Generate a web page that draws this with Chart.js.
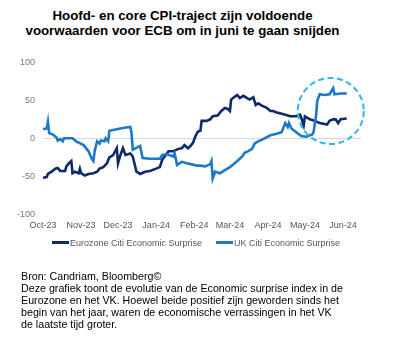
<!DOCTYPE html>
<html>
<head>
<meta charset="utf-8">
<script src="https://cdn.jsdelivr.net/npm/chart.js@4.4.1/dist/chart.umd.min.js"></script>
<style>
  body { margin: 0; background: #fff; width: 393px; height: 363px; position: relative; overflow: hidden;
         font-family: "Liberation Sans", Arial, sans-serif; }
  #title { position: absolute; left: 0; top: 8px; width: 365px; text-align: center; font-weight: bold;
           font-size: 13.3px; line-height: 15px; color: #000; }
  #wrap { position: absolute; left: 0; top: 49px; width: 393px; height: 189px; }
  #legend { position: absolute; left: 52px; top: 237px; height: 12px; font-size: 9px; line-height: 12px; color: #555; white-space: nowrap; }
  #legend .item { position: absolute; top: 0; }
  #legend .swatch { display: inline-block; width: 17px; height: 3px; vertical-align: middle; margin-right: 1px; position: relative; top: -1px; }
  #note { position: absolute; left: 21px; top: 269.5px; width: 372px; font-size: 10.7px; line-height: 12px; color: #000; }
</style>
</head>
<body>
<div id="title">Hoofd- en core CPI-traject zijn voldoende<br>voorwaarden voor ECB om in juni te gaan snijden</div>
<div id="wrap"><canvas id="surprise-chart"></canvas></div>
<div id="legend"></div>
<div id="note">Bron: Candriam, Bloomberg©<br>Deze grafiek toont de evolutie van de Economic surprise index in de<br>Eurozone en het VK. Hoewel beide positief zijn geworden sinds het<br>begin van het jaar, waren de economische verrassingen in het VK<br>de laatste tijd groter.</div>
<script>
// days counted from 1 Oct 2023
const monthDays = [0, 31, 61, 92, 123, 152, 183, 213, 244];
const monthLabels = ['Oct-23', 'Nov-23', 'Dec-23', 'Jan-24', 'Feb-24', 'Mar-24', 'Apr-24', 'May-24', 'Jun-24'];

const ezDays = [0, 3, 4, 7, 10, 12, 14, 18, 19, 21, 23, 24, 26, 29, 30, 31, 34, 37, 41, 44, 46, 49, 52, 54, 57, 60, 61, 63, 65, 67, 71, 73, 76, 79, 83, 87, 92, 95, 97, 99, 102, 106, 110, 113, 115, 118, 120, 122, 124, 125, 126, 128, 129, 133, 136, 138, 142, 145, 148, 150, 152, 153, 156, 158, 160, 163, 166, 168, 171, 173, 175, 178, 182, 185, 187, 190, 195, 201, 206, 209, 210, 212, 213, 217, 221, 225, 231, 233, 236, 238, 240, 242, 247];
const ezValues = [-52, -51, -47, -44, -40, -39, -43, -43, -37, -33, -30, -46, -44, -46, -40, -46, -49, -47, -46, -44, -40, -38, -33, -25, -22, -13, -33, -22, -13, -22, -20, -24, -44, -47, -44, -43, -40, -38, -28, -24, -17, -17, -14, -13, -9, -13, -10, -6, 3, 6, 9, 10, 23, 23, 25, 29, 30, 36, 40, 39, 36, 51, 55, 57, 53, 56, 53, 51, 54, 44, 46, 43, 40, 36, 36, 34, 32, 29, 29, 31, 27, 17, 29, 25, 23, 20, 18, 23, 25, 25, 20, 25, 26];

const ukDays = [0, 3, 4, 5, 8, 11, 12, 14, 16, 17, 24, 27, 33, 37, 40, 41, 42, 44, 46, 47, 50, 51, 53, 54, 57, 63, 66, 71, 72, 73, 79, 81, 87, 95, 97, 101, 106, 107, 109, 113, 117, 120, 125, 128, 132, 136, 137, 138, 140, 144, 147, 152, 158, 162, 164, 167, 170, 172, 175, 179, 185, 190, 194, 197, 199, 200, 202, 206, 210, 214, 219, 220, 222, 223, 225, 229, 233, 236, 237, 242, 247];
const ukValues = [12, 13, 22, 7, 5, 1, -3, -1, -4, 0, 0, -4, -9, -17, -28, -30, -17, -4, -7, -3, -4, 0, -4, 10, 11, 13, 14, 15, 7, -15, -10, -26, -27, -27, -22, -21, -24, -20, -35, -31, -33, -34, -36, -36, -37, -34, -30, -53, -44, -46, -43, -38, -30, -24, -19, -17, -14, -7, -4, -1, 4, 6, 8, 20, 15, 20, 13, 8, 3, 2, 5, 8, 29, 49, 58, 57, 58, 66, 58, 59, 59];

const seriesLabels = ['Eurozone Citi Economic Surprise', 'UK Citi Economic Surprise'];
const seriesColors = ['#0e2a6a', '#1d79c6'];
const legendOffsets = [0, 164];

const circleCenter = { x: 234, y: 36 };

function toPoints(days, values) {
	return days.map((d, i) => ({ x: d, y: values[i] }));
}

const highlightCircle = {
	id: 'highlightCircle',
	afterDatasetsDraw(chart) {
		const ctx = chart.ctx;
		const cx = chart.scales.x.getPixelForValue(circleCenter.x);
		const cy = chart.scales.y.getPixelForValue(circleCenter.y);
		ctx.save();
		ctx.strokeStyle = '#33b4e8';
		ctx.lineWidth = 2;
		ctx.setLineDash([6, 3.5]);
		ctx.beginPath();
		ctx.arc(cx, cy, 33, 0, Math.PI * 2);
		ctx.stroke();
		ctx.restore();
	},
};

Chart.defaults.font.family = '"Liberation Sans", Arial, sans-serif';
Chart.defaults.font.size = 9;

const lineConfig = {
	type: 'line',
	data: {
		datasets: [
			{
				label: seriesLabels[0],
				data: toPoints(ezDays, ezValues),
				borderColor: seriesColors[0],
				borderWidth: 2.6,
				pointRadius: 0,
				order: 1,
			},
			{
				label: seriesLabels[1],
				data: toPoints(ukDays, ukValues),
				borderColor: seriesColors[1],
				borderWidth: 2.6,
				pointRadius: 0,
				order: 0,
			},
		],
	},
	options: {
		responsive: true,
		maintainAspectRatio: false,
		animation: false,
		layout: { padding: { left: 0, right: 32, top: 11, bottom: 1 } },
		plugins: {
			legend: { display: false },
			tooltip: { enabled: false },
		},
		scales: {
			x: {
				type: 'linear',
				min: 0,
				max: 258.6,
				afterBuildTicks: (axis) => {
					axis.ticks = monthDays.map((v) => ({ value: v }));
				},
				ticks: {
					autoSkip: false,
					maxRotation: 0,
					padding: 6,
					color: '#555',
					callback: (v) => monthLabels[monthDays.indexOf(v)],
				},
				grid: { display: false, drawTicks: false },
				border: { display: false },
			},
			y: {
				min: -100,
				max: 100,
				afterFit: (axis) => {
					axis.width = 43;
				},
				ticks: { stepSize: 50, padding: 8, color: '#777' },
				grid: {
					drawTicks: false,
					color: (ctx) => (ctx.tick && ctx.tick.value === 0 ? '#d9d9d9' : 'rgba(0,0,0,0)'),
				},
				border: { display: false },
			},
		},
	},
	plugins: [highlightCircle],
};

new Chart(document.getElementById('surprise-chart'), lineConfig);

const legendEl = document.getElementById('legend');
seriesLabels.forEach((label, i) => {
	const item = document.createElement('span');
	item.className = 'item';
	item.style.left = legendOffsets[i] + 'px';
	const swatch = document.createElement('span');
	swatch.className = 'swatch';
	swatch.style.background = seriesColors[i];
	item.appendChild(swatch);
	item.appendChild(document.createTextNode(label));
	legendEl.appendChild(item);
});
</script>
</body>
</html>
